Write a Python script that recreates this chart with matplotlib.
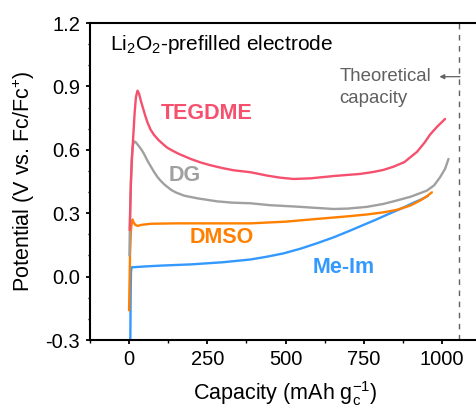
import matplotlib
matplotlib.use("Agg")
import matplotlib.pyplot as plt
from matplotlib.ticker import MultipleLocator

plt.rcParams['font.family'] = ['Liberation Sans', 'DejaVu Sans']
plt.rcParams['mathtext.fontset'] = 'custom'
plt.rcParams['mathtext.rm'] = 'Liberation Sans'
plt.rcParams['mathtext.it'] = 'Liberation Sans:italic'
plt.rcParams['mathtext.bf'] = 'Liberation Sans:bold'

# ---- data ----
tegdme_x = [2, 6, 10, 14, 18, 22, 27, 32, 38, 45, 52, 60, 69, 80, 95, 110, 122, 140, 160, 176,
            200, 229, 260, 300, 335, 388, 441, 484, 526, 580, 654, 739, 780, 813, 845, 880,
            920, 945, 962, 985, 1010]
tegdme_y = [0.22, 0.45, 0.58, 0.68, 0.78, 0.85, 0.88, 0.865, 0.83, 0.795, 0.76, 0.725, 0.695,
            0.67, 0.645, 0.625, 0.61, 0.595, 0.58, 0.57, 0.555, 0.54, 0.527, 0.513, 0.503,
            0.494, 0.478, 0.468, 0.462, 0.465, 0.476, 0.486, 0.495, 0.505, 0.52, 0.542,
            0.59, 0.635, 0.672, 0.71, 0.746]

dg_x = [1, 4, 8, 12, 16, 22, 30, 40, 48, 60, 70, 80, 90, 100, 112, 122, 135, 150, 176, 220,
        282, 330, 388, 450, 537, 600, 654, 700, 760, 813, 845, 900, 952, 975, 994, 1010, 1021]
dg_y = [0.10, 0.35, 0.55, 0.62, 0.64, 0.635, 0.62, 0.60, 0.58, 0.545, 0.52, 0.495, 0.473,
        0.455, 0.437, 0.425, 0.41, 0.398, 0.383, 0.37, 0.356, 0.35, 0.347, 0.338, 0.331,
        0.325, 0.32, 0.322, 0.33, 0.344, 0.356, 0.378, 0.407, 0.432, 0.47, 0.51, 0.557]

dmso_x = [0, 3, 6, 9, 11, 15, 20, 27, 40, 69, 150, 250, 388, 500, 601, 697, 760, 813, 856,
          900, 930, 950, 968]
dmso_y = [-0.16, 0.10, 0.22, 0.26, 0.27, 0.255, 0.245, 0.24, 0.245, 0.25, 0.252, 0.252, 0.252,
          0.26, 0.273, 0.285, 0.294, 0.304, 0.316, 0.337, 0.36, 0.378, 0.399]

meim_x = [4, 5, 6, 8, 20, 50, 101, 200, 300, 388, 440, 494, 550, 601, 654, 707, 750, 790,
          829, 870, 910, 935, 955]
meim_y = [-0.30, -0.10, 0.02, 0.044, 0.045, 0.048, 0.052, 0.058, 0.068, 0.081, 0.094, 0.11,
          0.133, 0.158, 0.186, 0.218, 0.245, 0.27, 0.296, 0.322, 0.35, 0.366, 0.382]

series_names = ['TEGDME', 'DG', 'DMSO', 'Me-Im']
series_x = [tegdme_x, dg_x, dmso_x, meim_x]
series_y = [tegdme_y, dg_y, dmso_y, meim_y]
series_colors = ['#F5506E', '#A0A0A0', '#FF8000', '#3399FF']
label_pos = [(248, 0.77), (178, 0.48), (296, 0.183), (686, 0.044)]

theoretical_capacity = 1054

# ---- figure ----
fig = plt.figure(figsize=(4.76, 4.09), dpi=100)
ax = fig.add_axes([0.189, 0.1687, 0.8216, 0.775])

for name, xs, ys, c in zip(series_names[::-1], series_x[::-1], series_y[::-1], series_colors[::-1]):
    ax.plot(xs, ys, color=c, lw=1.7, solid_joinstyle='round', solid_capstyle='round')

for name, (lx, ly), c in zip(series_names, label_pos, series_colors):
    ax.text(lx, ly, name, color=c, fontsize=15.5, fontweight='bold', ha='center', va='center')

ax.axvline(theoretical_capacity, color='#606060', lw=1.0, ls=(0, (4, 4)))
ax.annotate('', xy=(992, 0.946), xytext=(theoretical_capacity + 4, 0.946),
            arrowprops=dict(arrowstyle='-|>', color='#606060', lw=0.9,
                            mutation_scale=7, shrinkA=0, shrinkB=0))
ax.text(672, 0.946, 'Theoretical', color='#606060', fontsize=13.4, ha='left', va='center')
ax.text(672, 0.842, 'capacity', color='#606060', fontsize=13.4, ha='left', va='center')

ax.text(-62, 1.1, 'Li$_\\mathregular{2}$O$_\\mathregular{2}$-prefilled electrode', fontsize=15,
        ha='left', va='center', color='black')

ax.set_xlim(-125, 1125)
ax.set_ylim(-0.3, 1.2)
ax.xaxis.set_minor_locator(MultipleLocator(125))
ax.yaxis.set_minor_locator(MultipleLocator(0.1))
ax.set_yticks([-0.3, 0.0, 0.3, 0.6, 0.9, 1.2])
ax.set_yticklabels(['-0.3', '0.0', '0.3', '0.6', '0.9', '1.2'])
ax.set_xticks([0, 250, 500, 750, 1000])

for sp in ax.spines.values():
    sp.set_linewidth(1.5)
ax.spines['right'].set_visible(False)

ax.tick_params(which='major', direction='out', length=3.2, width=1.3, labelsize=14.5, pad=4)
ax.tick_params(which='minor', direction='out', length=1.8, width=1.0)
ax.tick_params(axis='x', which='both', top=False)

ax.set_xlabel('Capacity (mAh g$_\\mathregular{c}^\\mathregular{-1}$)', fontsize=15.5, labelpad=7)
ax.set_ylabel('Potential (V vs. Fc/Fc$^\\mathregular{+}$)', fontsize=15.5, labelpad=6)

fig.savefig('out.png', dpi=100)
